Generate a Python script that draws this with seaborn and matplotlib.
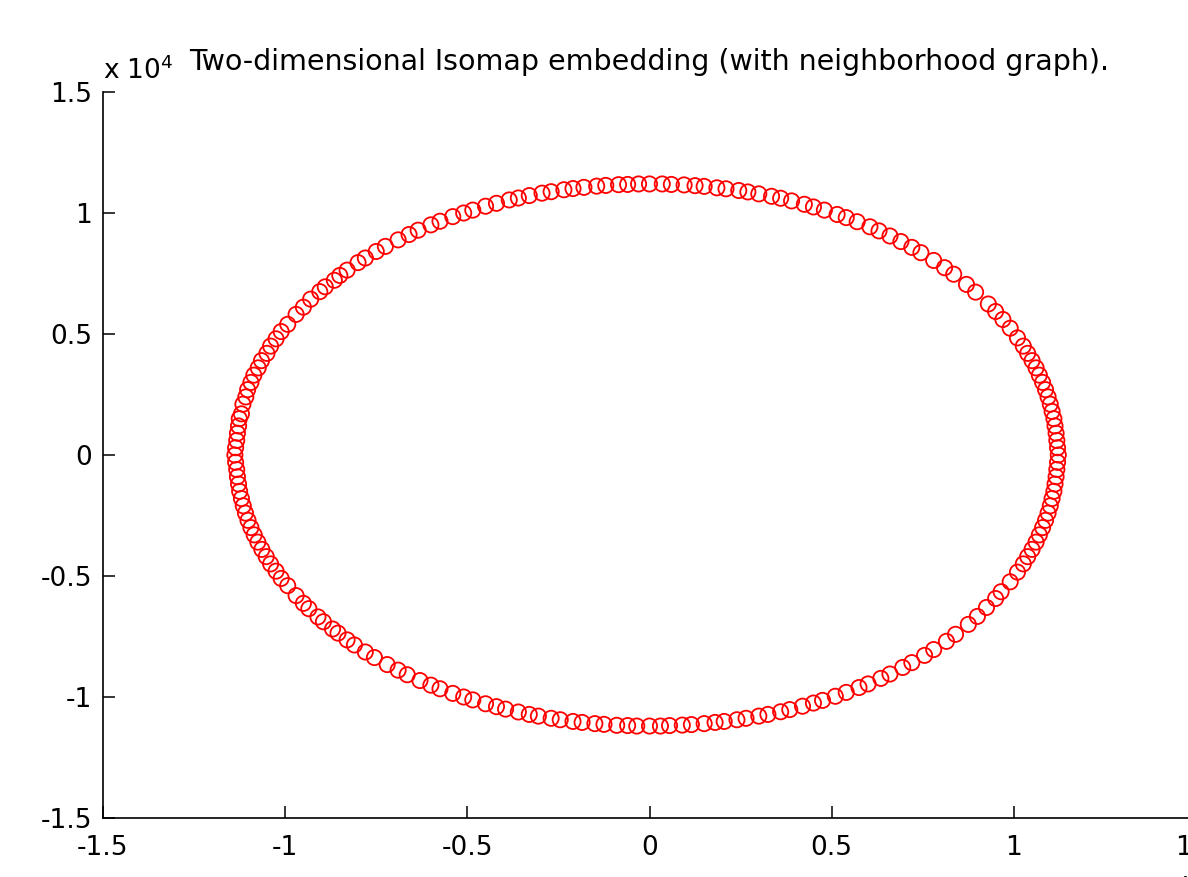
import numpy as np
import pandas as pd
import matplotlib
matplotlib.use('Agg')
import matplotlib.pyplot as plt
import seaborn as sns

# embedding coordinates, in units of 1e4
upper_x = [-1.138, -1.136, -1.133, -1.131, -1.128, -1.126, -1.120, -1.116, -1.108, -1.103,
           -1.094, -1.086, -1.074, -1.065, -1.050, -1.040, -1.025, -1.011, -0.993,
           -0.97, -0.95, -0.93, -0.905, -0.89, -0.865, -0.85, -0.83, -0.80, -0.78,
           -0.75, -0.725, -0.69, -0.66, -0.635, -0.60, -0.575, -0.54, -0.51, -0.485,
           -0.45, -0.42, -0.385, -0.36, -0.33, -0.295, -0.27, -0.235, -0.21, -0.18,
           -0.145, -0.12, -0.085, -0.06, -0.03,
           0.00, 0.035, 0.06, 0.095, 0.125, 0.15, 0.185, 0.21, 0.245, 0.27,
           0.30, 0.335, 0.36, 0.39, 0.425, 0.45, 0.48, 0.515, 0.54, 0.57,
           0.605, 0.63, 0.66, 0.69, 0.72, 0.745, 0.78, 0.81, 0.835, 0.87,
           0.895, 0.93, 0.95, 0.97, 0.99, 1.01,
           1.026, 1.038, 1.050, 1.061, 1.070, 1.079, 1.087, 1.094, 1.100, 1.105,
           1.110, 1.113, 1.116, 1.118, 1.120]
upper_y = [0.00, 0.03, 0.06, 0.09, 0.12, 0.15, 0.17, 0.21, 0.24, 0.27,
           0.30, 0.33, 0.36, 0.39, 0.42, 0.45, 0.48, 0.51, 0.54,
           0.581, 0.611, 0.644, 0.675, 0.695, 0.722, 0.742, 0.764, 0.795, 0.814,
           0.841, 0.862, 0.889, 0.911, 0.929, 0.951, 0.966, 0.985, 1.000, 1.012,
           1.028, 1.040, 1.054, 1.062, 1.072, 1.082, 1.088, 1.096, 1.101, 1.106,
           1.111, 1.114, 1.117, 1.118, 1.120,
           1.120, 1.120, 1.118, 1.116, 1.113, 1.110, 1.104, 1.100, 1.093, 1.087,
           1.079, 1.069, 1.061, 1.050, 1.036, 1.025, 1.012, 0.994, 0.981, 0.964,
           0.943, 0.926, 0.905, 0.882, 0.858, 0.836, 0.804, 0.774, 0.747, 0.705,
           0.673, 0.624, 0.593, 0.560, 0.524, 0.484,
           0.45, 0.42, 0.39, 0.36, 0.33, 0.30, 0.27, 0.24, 0.21, 0.18,
           0.15, 0.12, 0.09, 0.06, 0.03]

lower_x = [1.122, 1.120, 1.118, 1.116, 1.113, 1.110, 1.105, 1.100, 1.094, 1.087,
           1.079, 1.070, 1.061, 1.050, 1.038, 1.026,
           1.01, 0.99, 0.965, 0.95, 0.925, 0.90, 0.875, 0.84, 0.815, 0.78,
           0.755, 0.72, 0.695, 0.66, 0.635, 0.60, 0.575, 0.54, 0.51, 0.475,
           0.45, 0.42, 0.385, 0.36, 0.325, 0.30, 0.265, 0.24, 0.205, 0.18,
           0.15, 0.115, 0.09, 0.055, 0.03,
           0.00, -0.035, -0.06, -0.09, -0.125, -0.15, -0.185, -0.21, -0.245, -0.27,
           -0.305, -0.33, -0.36, -0.395, -0.42, -0.45, -0.485, -0.51, -0.54, -0.575,
           -0.60, -0.63, -0.665, -0.69, -0.72, -0.755, -0.78, -0.81, -0.83, -0.855,
           -0.87, -0.895, -0.91, -0.935, -0.95, -0.97,
           -0.993, -1.011, -1.025, -1.040, -1.052, -1.064, -1.075, -1.085, -1.094, -1.102,
           -1.109, -1.115, -1.120, -1.125, -1.128, -1.131, -1.133, -1.136]
lower_y = [0.00, -0.03, -0.06, -0.09, -0.12, -0.15, -0.18, -0.21, -0.24, -0.27,
           -0.30, -0.33, -0.36, -0.39, -0.42, -0.45,
           -0.484, -0.524, -0.565, -0.593, -0.630, -0.667, -0.700, -0.741, -0.770, -0.804,
           -0.828, -0.858, -0.878, -0.905, -0.923, -0.946, -0.961, -0.981, -0.997, -1.014,
           -1.025, -1.038, -1.052, -1.061, -1.072, -1.079, -1.088, -1.094, -1.101, -1.105,
           -1.110, -1.114, -1.116, -1.118, -1.120,
           -1.120, -1.120, -1.118, -1.117, -1.113, -1.110, -1.105, -1.101, -1.094, -1.088,
           -1.079, -1.072, -1.062, -1.050, -1.040, -1.028, -1.012, -1.000, -0.985, -0.966,
           -0.951, -0.932, -0.908, -0.889, -0.866, -0.837, -0.814, -0.785, -0.764, -0.736,
           -0.719, -0.689, -0.669, -0.635, -0.613, -0.581,
           -0.54, -0.51, -0.48, -0.45, -0.42, -0.39, -0.36, -0.33, -0.30, -0.27,
           -0.24, -0.21, -0.18, -0.15, -0.12, -0.09, -0.06, -0.03]

ticks = [-1.5, -1, -0.5, 0, 0.5, 1, 1.5]
tick_labels = ['-1.5', '-1', '-0.5', '0', '0.5', '1', '1.5']
title = 'Two-dimensional Isomap embedding (with neighborhood graph).'

df = pd.DataFrame({'x': upper_x + lower_x, 'y': upper_y + lower_y})

sns.set_style('white')
plt.rcParams['font.family'] = ['DejaVu Sans']
plt.rcParams['text.color'] = 'black'

fig = plt.figure(figsize=(11.88, 8.77), dpi=100)
# axes run past the right edge, like the cropped original
ax = fig.add_axes([103/1188, 59/877, 1093/1188, 726/877])

sns.scatterplot(data=df, x='x', y='y', ax=ax, marker='o', s=120,
                color='red', facecolor='none', edgecolor='red', linewidth=1.3)

ax.set_xlim(-1.5, 1.5)
ax.set_ylim(-1.5, 1.5)
ax.set_xticks(ticks)
ax.set_xticklabels(tick_labels)
ax.set_yticks(ticks)
ax.set_yticklabels(tick_labels)
ax.set_xlabel('')
ax.set_ylabel('')
ax.tick_params(bottom=True, left=True, direction='in', length=8.5, width=1.1,
               labelsize=19, colors='black')
ax.tick_params(axis='x', pad=12)
ax.tick_params(axis='y', pad=8)
for side in ['left', 'bottom']:
    ax.spines[side].set_linewidth(1.2)
    ax.spines[side].set_color('black')
ax.spines['top'].set_visible(False)
ax.spines['right'].set_visible(False)

ax.text(0.5, (818-70)/726, title, transform=ax.transAxes, ha='center',
        va='baseline', fontsize=20.5, color='black')
ax.text(0.0, (818-79)/726, r'x 10$^4$', transform=ax.transAxes, ha='left',
        va='baseline', fontsize=19, color='black')
ax.text((1120-103)/1093, (818-900)/726, r'x 10$^4$', transform=ax.transAxes,
        ha='left', va='baseline', fontsize=19, color='black', clip_on=False)

fig.savefig('out.png', dpi=100)
